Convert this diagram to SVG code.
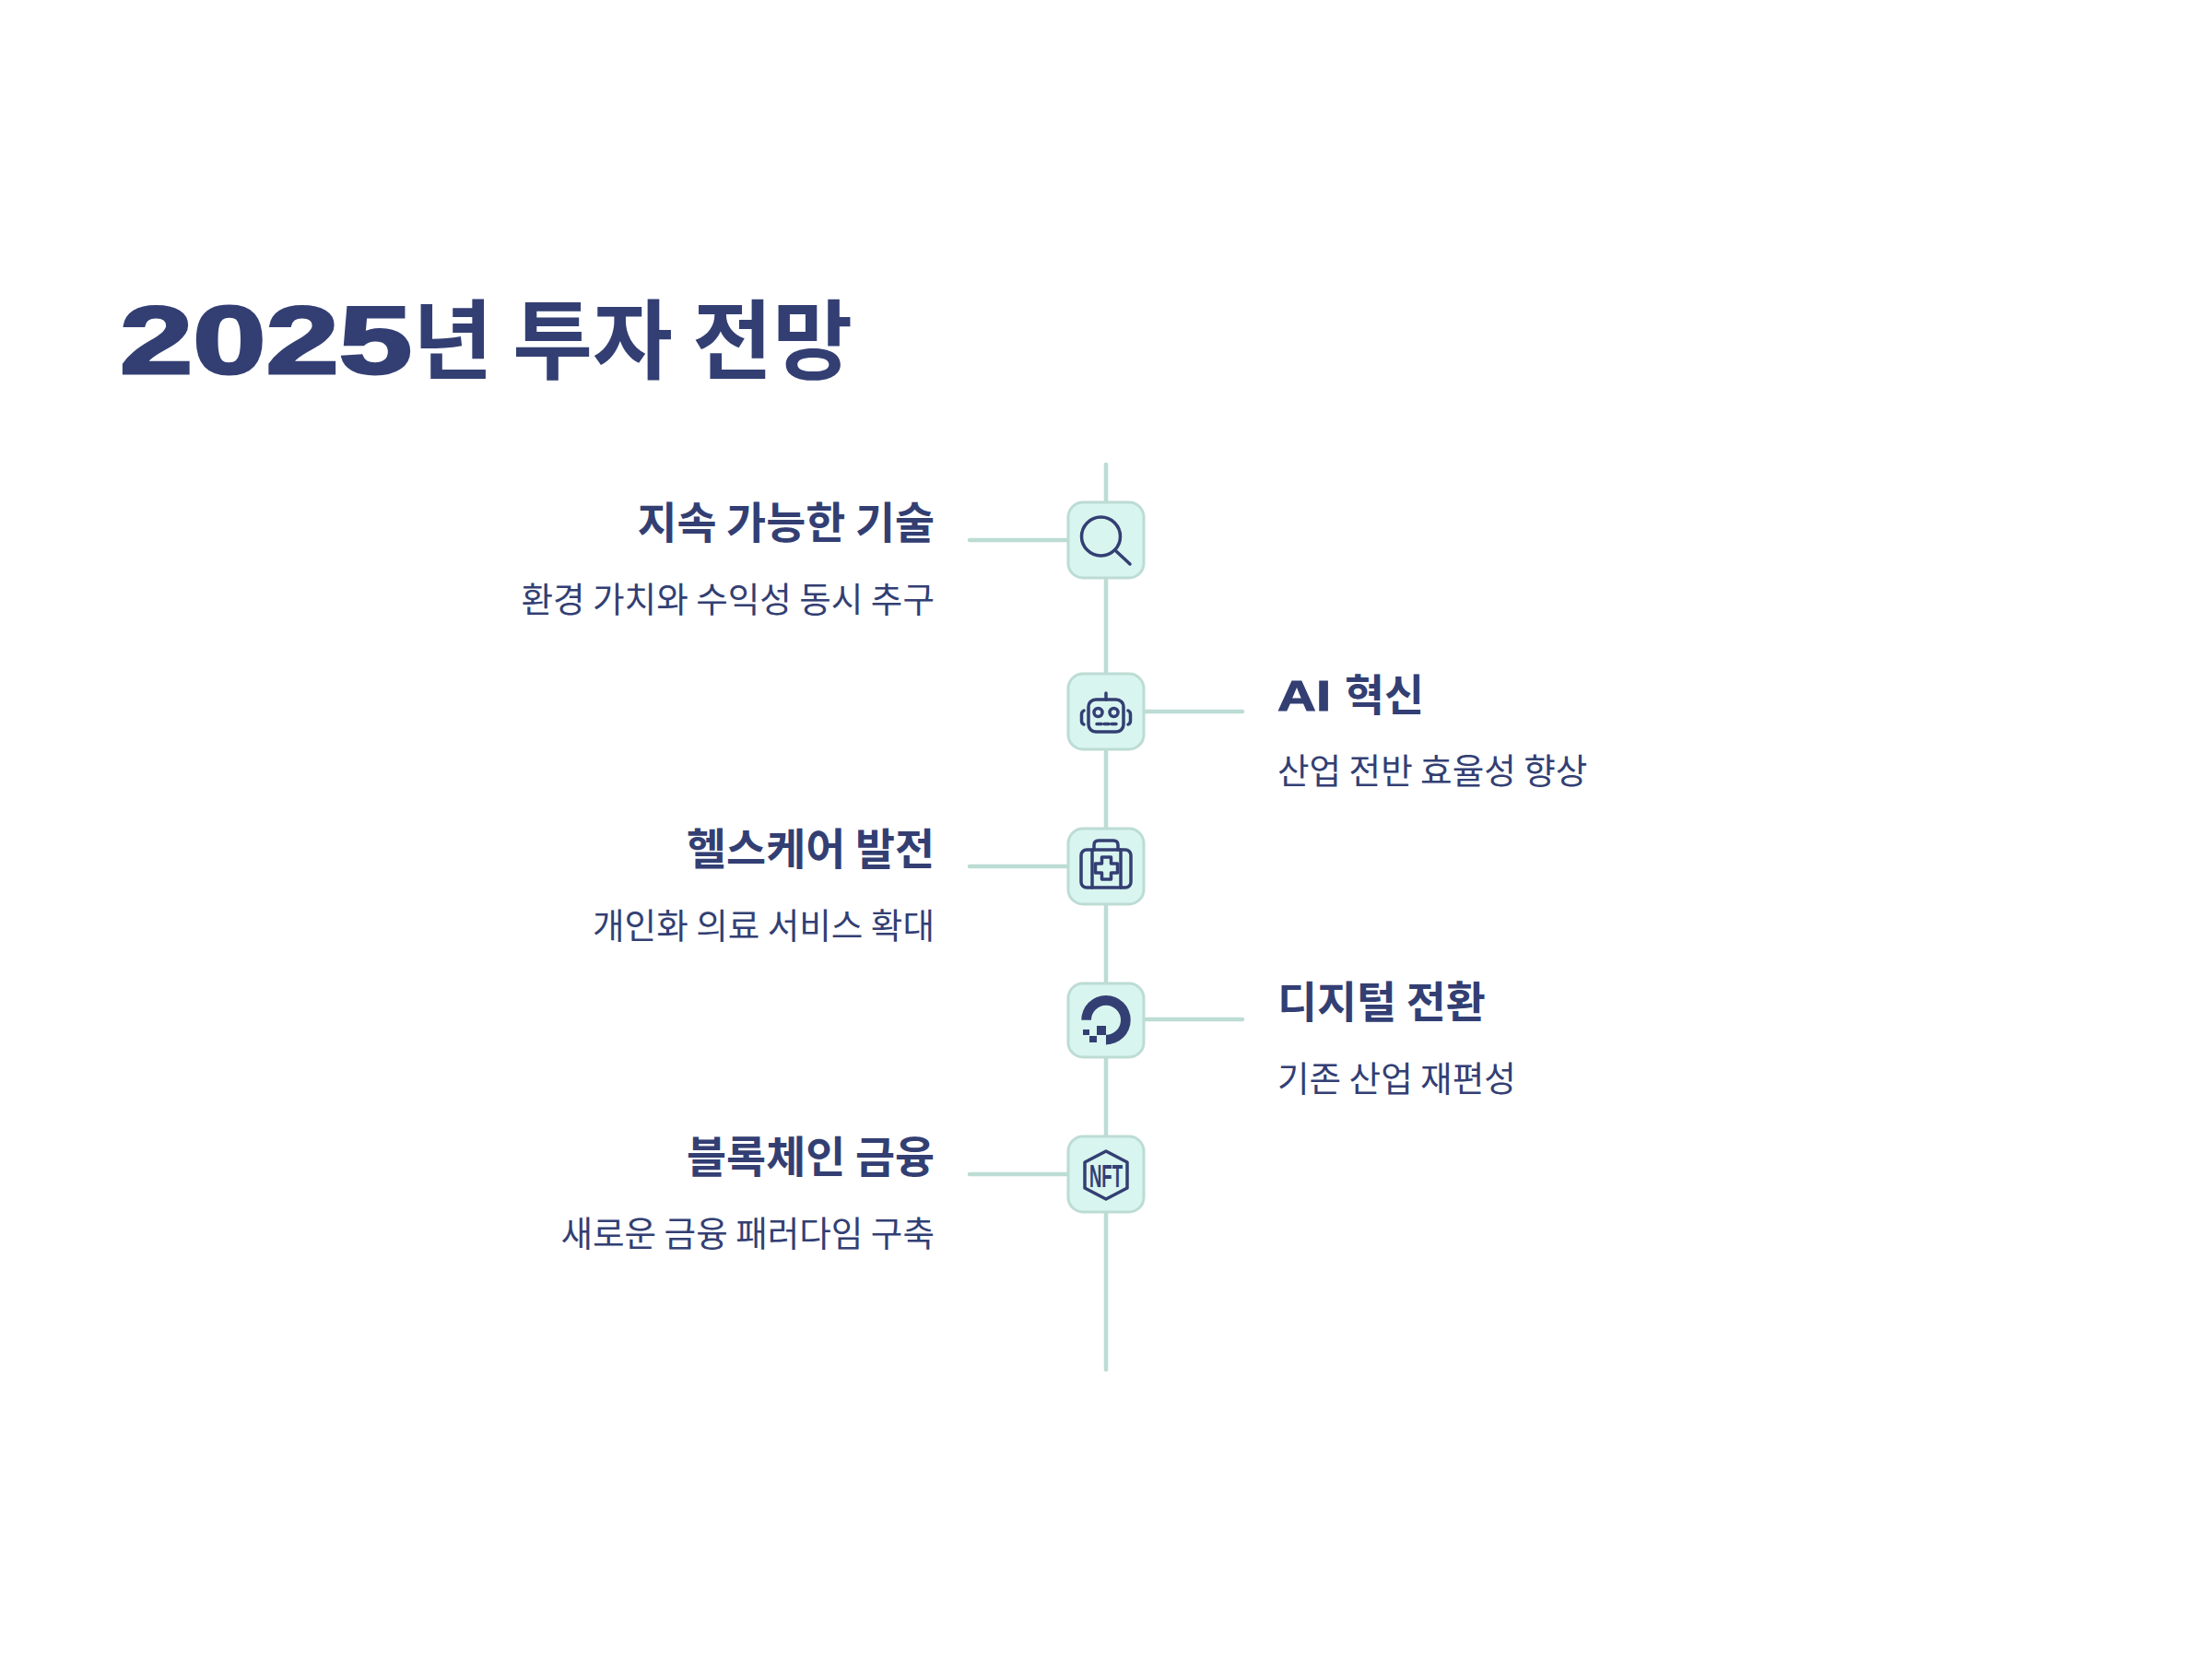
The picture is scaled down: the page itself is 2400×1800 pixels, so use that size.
<svg xmlns="http://www.w3.org/2000/svg" width="2400" height="1800" viewBox="0 0 2400 1800">
<style>
text{fill:#333f73;font-family:"Noto Sans CJK KR","Liberation Sans",sans-serif}
.h{font-size:46.800px;font-weight:700}
.s{font-size:37.600px;font-weight:400}
.e{text-anchor:end}
.w{font-family:"Liberation Sans",sans-serif;font-weight:700}
.c{stroke:#bcdcd4;stroke-width:4.500;fill:none;stroke-linecap:round}
.b{fill:#d8f5ef;stroke:#bcdcd4;stroke-width:3}
.i{fill:none;stroke:#333f73;stroke-width:3.500;stroke-linecap:round;stroke-linejoin:round}
.f{fill:#333f73}
</style>
<rect width="2400" height="1800" fill="#fff"/>
<g id="title"><text class="w" x="130" y="405" font-size="103" stroke="#333f73" stroke-width="3" textLength="317" lengthAdjust="spacingAndGlyphs">2025</text><text x="448" y="404" font-size="94.400" font-weight="700">년 투자 전망</text></g>
<g id="connectors">
<path class="c" d="M1200 504V1486"/>
<path class="c" d="M1052 586H1158M1242 772H1348M1052 940H1158M1242 1106H1348M1052 1274H1158"/>
</g>
<g id="node1"><rect class="b" x="1159" y="545" width="82" height="82" rx="16"/>
<circle class="i" cx="1194.500" cy="582" r="21"/><path class="i" d="M1211 598L1226 612"/>
<text class="h e" x="1014" y="584">지속 가능한 기술</text><text class="s e" x="1014" y="664">환경 가치와 수익성 동시 추구</text></g>
<g id="node2"><rect class="b" x="1159" y="731" width="82" height="82" rx="16"/>
<rect class="i" x="1181" y="759" width="38" height="35" rx="8"/><path class="i" d="M1200 752V759M1190 785.500H1195M1198 785.500H1203M1206 785.500H1211"/>
<circle class="i" cx="1191.500" cy="773" r="4.500"/><circle class="i" cx="1208.500" cy="773" r="4.500"/>
<path class="i" d="M1176 771Q1173.500 772 1173.500 775V782Q1173.500 785 1176 786M1224 771Q1226.500 772 1226.500 775V782Q1226.500 785 1224 786"/>
<text class="w" x="1386" y="771" font-size="46" textLength="58" lengthAdjust="spacingAndGlyphs" stroke="#333f73">AI</text><text class="h" x="1459" y="771">혁신</text><text class="s" x="1386" y="850">산업 전반 효율성 향상</text></g>
<g id="node3"><rect class="b" x="1159" y="899" width="82" height="82" rx="16"/>
<rect class="i" x="1173" y="922" width="54" height="41" rx="6"/><path class="i" d="M1187 922V917Q1187 912 1192 912H1208Q1213 912 1213 917V922M1185 922V963M1216 922V963"/>
<path class="i" d="M1195.500 930H1205.500V937H1212.500V947H1205.500V954H1195.500V947H1188.500V937H1195.500Z"/>
<text class="h e" x="1014" y="938">헬스케어 발전</text><text class="s e" x="1014" y="1018">개인화 의료 서비스 확대</text></g>
<g id="node4"><rect class="b" x="1159" y="1067" width="82" height="80" rx="16"/>
<path class="f" d="M1173.300 1106.700A26.700 26.700 0 1 1 1200 1133.400V1122.700A16 16 0 1 0 1184 1106.700Z"/>
<rect class="f" x="1190" y="1113" width="10" height="10"/><rect class="f" x="1182" y="1124" width="8" height="7"/><rect class="f" x="1175" y="1117" width="7" height="6"/>
<text class="h" x="1386" y="1104">디지털 전환</text><text class="s" x="1386" y="1184">기존 산업 재편성</text></g>
<g id="node5"><rect class="b" x="1159" y="1233" width="82" height="82" rx="16"/>
<path class="i" d="M1200 1249L1223 1261V1289L1200 1301L1177 1289V1261Z"/>
<text class="w" x="1182" y="1288" font-size="35" textLength="36" lengthAdjust="spacingAndGlyphs">NFT</text>
<text class="h e" x="1014" y="1272">블록체인 금융</text><text class="s e" x="1014" y="1352">새로운 금융 패러다임 구축</text></g>
</svg>
